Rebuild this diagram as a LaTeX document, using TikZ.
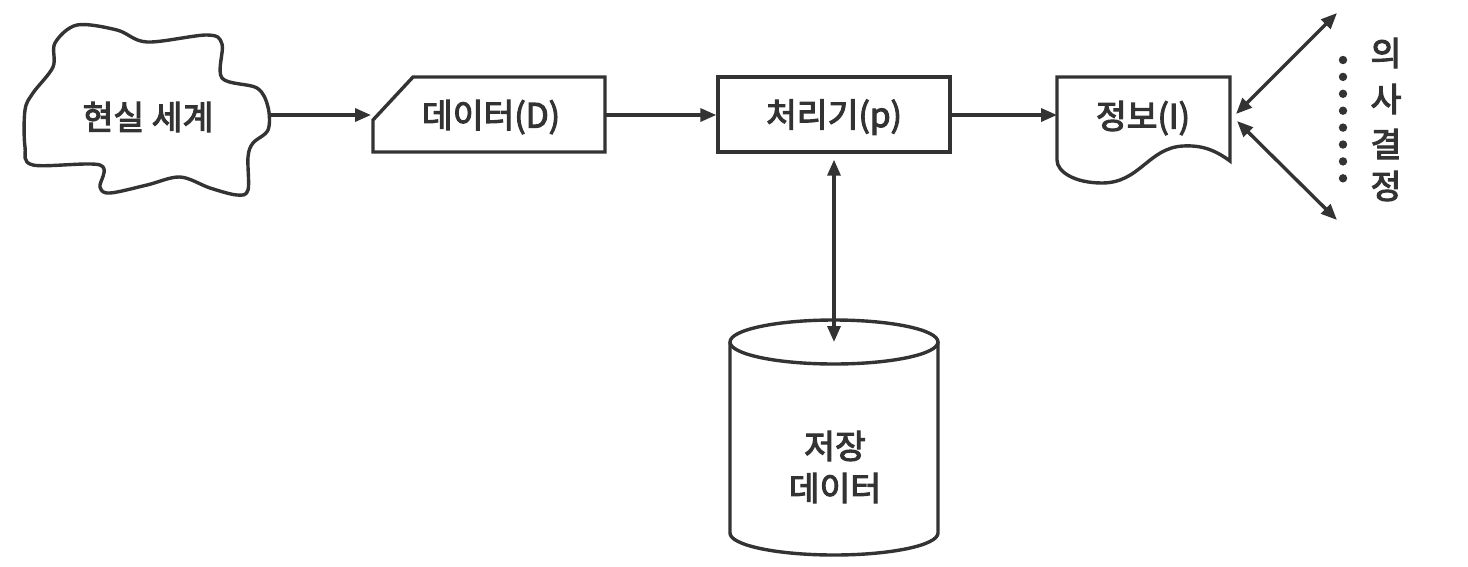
\documentclass[tikz,border=0pt]{standalone}
\usepackage{fontspec}
\setmainfont{Noto Sans CJK KR}
\usetikzlibrary{arrows.meta}
\definecolor{ink}{HTML}{333333}
\newcommand\medw[1]{\special{pdf:literal direct 2 Tr 1.1 w}#1\special{pdf:literal direct 0 Tr}}
\begin{document}
\begin{tikzpicture}[x=1pt,y=-1pt,
  line width=3.4pt, draw=ink, color=ink,
  every node/.style={font=\fontsize{33.5}{38}\selectfont, text=ink, inner sep=0pt},
  arr/.style={-{Triangle[length=16pt,width=13pt]}, line width=3.4pt},
  dbl/.style={{Triangle[length=16pt,width=13pt]}-{Triangle[length=16pt,width=13pt]}, line width=3.4pt},
  label/.style={minimum width=232pt, minimum height=75pt}]
\useasboundingbox (0,0) rectangle (1468,566);
% cloud
\draw[line join=round] plot[smooth cycle, tension=0.55] coordinates {
 (77,25) (117,30) (147,42) (207,35) (222,44) (222,78) (257,88) (268,107)
 (268,130) (253,143) (248,157) (248,190) (237,195) (210,188) (180,177)
 (147,185) (110,193) (100,187) (100,165) (33,165) (25,147) (25,110)
 (33,93) (53,67) (55,43)};
\node (cloud) at (148,117) {\medw{현실 세계}};
\coordinate (cloudE) at (270,115);
% data box
\node[label] (data) at (489,114.5) {};
\draw[line join=miter] (373,152) -- (373,120) -- (413,77) -- (605,77) -- (605,152) -- cycle;
\node at (491,117) {\medw{데이터(D)}};
% processor
\node[draw, line width=3.4pt, minimum width=232pt, minimum height=75pt] (proc) at (834,114.5) {};
\node at (834,117) {\medw{처리기(p)}};
% document
\node[minimum width=173pt, minimum height=75pt] (doc) at (1143.5,114.5) {};
\draw[line join=miter] (1057,77) -- (1230,77) -- (1230,161)
  .. controls (1215,150) and (1202,145) .. (1183,146)
  .. controls (1148,148) and (1140,183) .. (1102,183)
  .. controls (1075,183) and (1057,172) .. (1057,160) -- cycle;
\node at (1143,118) {\medw{정보(I)}};
% cylinder
\draw (730,342) -- (730,533) arc[start angle=180, end angle=0, x radius=104, y radius=22] -- (938,342);
\draw (834,342) ellipse [x radius=104, y radius=22];
\node[align=center, font=\fontsize{33.5}{42}\selectfont] (store) at (835,467) {\medw{저장}\\\medw{데이터}};
\coordinate (cylTop) at (834,342);
% connectors
\draw[arr] (cloudE) -- (371,115);
\coordinate (dataE) at (605,115);
\draw[arr] (dataE) -- (proc.west |- dataE);
\coordinate (procE) at (950,115);
\draw[arr] (procE) -- (1057,115);
\draw[dbl] ([yshift=-6pt]proc.south) -- (cylTop);
% decision
\coordinate (decA) at (1236,114);
\coordinate (decB) at (1237,121);
\coordinate (decTop) at (1337,13);
\coordinate (decBot) at (1337,220);
\draw[dbl] (decA) -- (decTop);
\draw[dbl] (decB) -- (decBot);
\foreach \i in {0,...,7} \fill[ink] (1343,60+16.9*\i) circle[radius=4.2];
\node (d1) at (1386,53) {\medw{의}};
\node (d2) at (1386,99) {\medw{사}};
\node (d3) at (1386,144) {\medw{결}};
\node (d4) at (1386,186) {\medw{정}};
\end{tikzpicture}
\end{document}
